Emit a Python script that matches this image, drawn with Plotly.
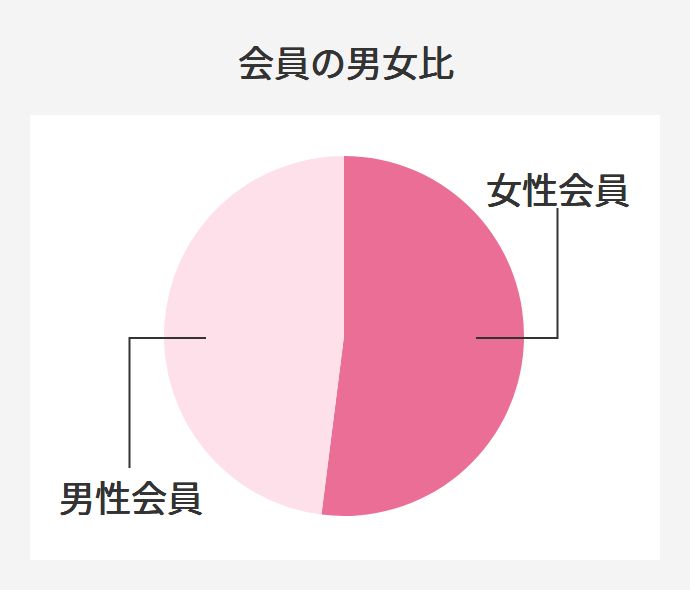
import plotly.graph_objects as go

labels = ['女性会員', '男性会員']
values = [52, 48]
colors = ['#eb6e96', '#fde0ea']

W, H = 690, 590
FONT = 'Noto Sans CJK JP'


def px(x):
    return x / W


def py(y):
    return 1 - y / H


fig = go.Figure()

# Pie (female first, clockwise from 12 o'clock)
fig.add_trace(go.Pie(
    labels=labels,
    values=values,
    sort=False,
    direction='clockwise',
    rotation=0,
    marker=dict(colors=colors, line=dict(width=0)),
    textinfo='none',
    hovertemplate='%{label}: %{value}%<extra></extra>',
    domain=dict(x=[px(164), px(524)], y=[py(516), py(156)]),
    showlegend=False,
))

# White panel behind the pie
shapes = [dict(type='rect', xref='paper', yref='paper', layer='below',
               x0=px(30), x1=px(660), y0=py(560), y1=py(115),
               fillcolor='white', line=dict(width=0))]

# Leader lines
line_style = dict(color='#333333', width=2)
shapes.append(dict(type='path', xref='paper', yref='paper', line=line_style,
                   path=f'M {px(476)},{py(338)} L {px(557.5)},{py(338)} L {px(557.5)},{py(208)}'))
shapes.append(dict(type='path', xref='paper', yref='paper', line=line_style,
                   path=f'M {px(206)},{py(338)} L {px(129.5)},{py(338)} L {px(129.5)},{py(468)}'))

# regular weight, thickened a little with a tight shadow (medium-ish look)
text_font = dict(size=36, color='#333333', family=FONT,
                 shadow='0.5px 0 0 #333333, -0.3px 0 0 #333333, 0 0.4px 0 #333333')
annotations = [
    dict(text='女性会員', x=px(558), y=py(188)),
    dict(text='男性会員', x=px(131), y=py(496)),
    dict(text='会員の男女比', x=px(346), y=py(61)),
]
for a in annotations:
    a.update(xref='paper', yref='paper', xanchor='center', yanchor='middle',
             showarrow=False, font=text_font)

fig.update_layout(
    width=W,
    height=H,
    margin=dict(l=0, r=0, t=0, b=0),
    paper_bgcolor='#f4f4f4',
    plot_bgcolor='#f4f4f4',
    shapes=shapes,
    annotations=annotations,
    font=dict(family=FONT),
)

# drop the default page margin so the figure sits at the window's corner
fig.write_html('out.html', config={'displayModeBar': False},
               post_script="document.body.style.margin='0';")
